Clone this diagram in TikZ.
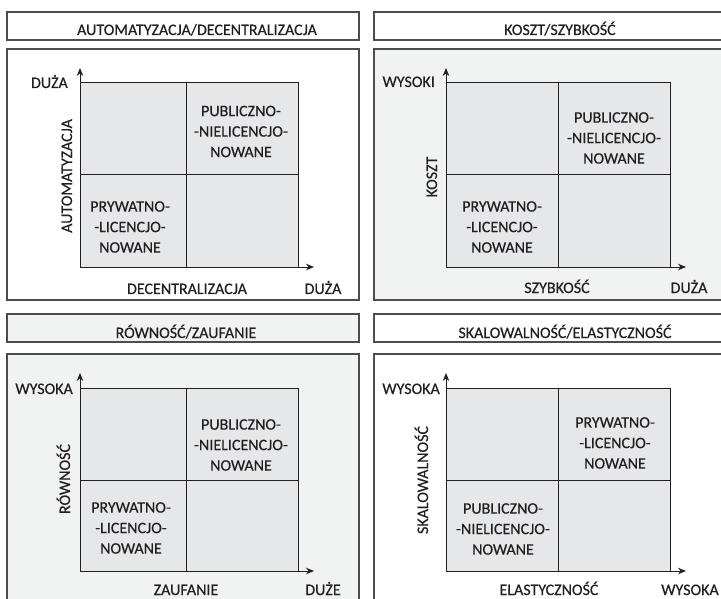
\documentclass[tikz,border=0pt]{standalone}
\usepackage{fontspec}
\setmainfont{Carlito}[FakeBold=0.35]
\usetikzlibrary{arrows.meta}
\definecolor{panelgrey}{HTML}{F1F2F2}
\definecolor{cellgrey}{HTML}{E6E7E8}
\definecolor{edgec}{HTML}{4D4D4D}
\definecolor{ink}{HTML}{231F20}
\begin{document}
\begin{tikzpicture}[x=1pt,y=-1pt,
  box/.style={draw=edgec,line width=1.5pt},
  cell/.style={draw=ink,line width=1pt,fill=cellgrey},
  divider/.style={draw=ink,line width=1pt},
  axis/.style={draw=ink,line width=1pt,-{Stealth[length=8pt,width=6.5pt]}},
  lbl/.style={font=\fontsize{16}{20.5}\selectfont, text=ink, inner sep=0pt},
  quad/.style={lbl, align=center, anchor=center},
  vlbl/.style={lbl, rotate=90, anchor=base},
]
\clip (0,0) rectangle (721,599);
\fill[white] (0,0) rectangle (721,599);

% ---------- top left ----------
\draw[box,fill=white] (7,12) rectangle (359,40);
\draw[box,fill=white] (7,49) rectangle (359,300);
\draw[cell] (80,83) rectangle (298,267);
\draw[divider] (186,83) -- (186,267) (80,175) -- (298,175);
\coordinate (o1) at (80,267);
\coordinate (y1) at (80,68);
\coordinate (x1) at (314,267);
\draw[axis] (o1) -- (y1);
\draw[axis] (o1) -- (x1);
\node[lbl,anchor=base] (h1) at (197,35) {AUTOMATYZACJA/DECENTRALIZACJA};
\node[lbl,anchor=base east] (t1) at (68,88) {DUŻA};
\node[vlbl] (v1) at (72,176) {AUTOMATYZACJA};
\node[lbl,anchor=base] (b1) at (187,294) {DECENTRALIZACJA};
\node[lbl,anchor=base] (r1) at (323,294) {DUŻA};
\node[quad] (q1a) at (241,131.5) {PUBLICZNO-\\-NIELICENCJO-\\NOWANE};
\node[quad] (q1b) at (130,227) {PRYWATNO-\\-LICENCJO-\\NOWANE};

% ---------- top right ----------
\draw[box,fill=white] (374,12) rectangle (740,40);
\draw[box,fill=panelgrey] (374,49) rectangle (740,300);
\draw[cell] (446,83) rectangle (670,267);
\draw[divider] (558,83) -- (558,267) (446,175) -- (670,175);
\coordinate (o2) at (446,267);
\coordinate (y2) at (446,68);
\coordinate (x2) at (686,267);
\draw[axis] (o2) -- (y2);
\draw[axis] (o2) -- (x2);
\node[lbl,anchor=base] (h2) at (560,35) {KOSZT/SZYBKOŚĆ};
\node[lbl,anchor=base east] (t2) at (435,87) {WYSOKI};
\node[vlbl] (v2) at (437,177) {KOSZT};
\node[lbl,anchor=base] (b2) at (557,293) {SZYBKOŚĆ};
\node[lbl,anchor=base] (r2) at (689,293) {DUŻA};
\node[quad] (q2a) at (614,138) {PUBLICZNO-\\-NIELICENCJO-\\NOWANE};
\node[quad] (q2b) at (502,227) {PRYWATNO-\\-LICENCJO-\\NOWANE};

% ---------- bottom left ----------
\draw[box,fill=panelgrey] (7,314) rectangle (359,342);
\draw[box,fill=panelgrey] (7,354) rectangle (359,620);
\draw[cell] (80,388) rectangle (298,571);
\draw[divider] (186,388) -- (186,571) (80,480) -- (298,480);
\coordinate (o3) at (80,571);
\coordinate (y3) at (80,373);
\coordinate (x3) at (314,571);
\draw[axis] (o3) -- (y3);
\draw[axis] (o3) -- (x3);
\node[lbl,anchor=base] (h3) at (186,338) {RÓWNOŚĆ/ZAUFANIE};
\node[lbl,anchor=base east] (t3) at (73,394) {WYSOKA};
\node[vlbl] (v3) at (70,479) {RÓWNOŚĆ};
\node[lbl,anchor=base] (b3) at (186,595) {ZAUFANIE};
\node[lbl,anchor=base] (r3) at (323,595) {DUŻE};
\node[quad] (q3a) at (241,445) {PUBLICZNO-\\-NIELICENCJO-\\NOWANE};
\node[quad] (q3b) at (131,528) {PRYWATNO-\\-LICENCJO-\\NOWANE};

% ---------- bottom right ----------
\draw[box,fill=white] (374,314) rectangle (740,342);
\draw[box,fill=white] (374,354) rectangle (740,620);
\draw[cell] (446,388) rectangle (670,571);
\draw[divider] (558,388) -- (558,571) (446,480) -- (670,480);
\coordinate (o4) at (446,571);
\coordinate (y4) at (446,373);
\coordinate (x4) at (686,571);
\draw[axis] (o4) -- (y4);
\draw[axis] (o4) -- (x4);
\node[lbl,anchor=base] (h4) at (565,338) {SKALOWALNOŚĆ/ELASTYCZNOŚĆ};
\node[lbl,anchor=base east] (t4) at (440,394) {WYSOKA};
\node[vlbl] (v4) at (428,480) {SKALOWALNOŚĆ};
\node[lbl,anchor=base] (b4) at (549,595) {ELASTYCZNOŚĆ};
\node[lbl,anchor=base] (r4) at (690,595) {WYSOKA};
\node[quad] (q4a) at (615,443) {PRYWATNO-\\-LICENCJO-\\NOWANE};
\node[quad] (q4b) at (503,529) {PUBLICZNO-\\-NIELICENCJO-\\NOWANE};
\end{tikzpicture}
\end{document}
